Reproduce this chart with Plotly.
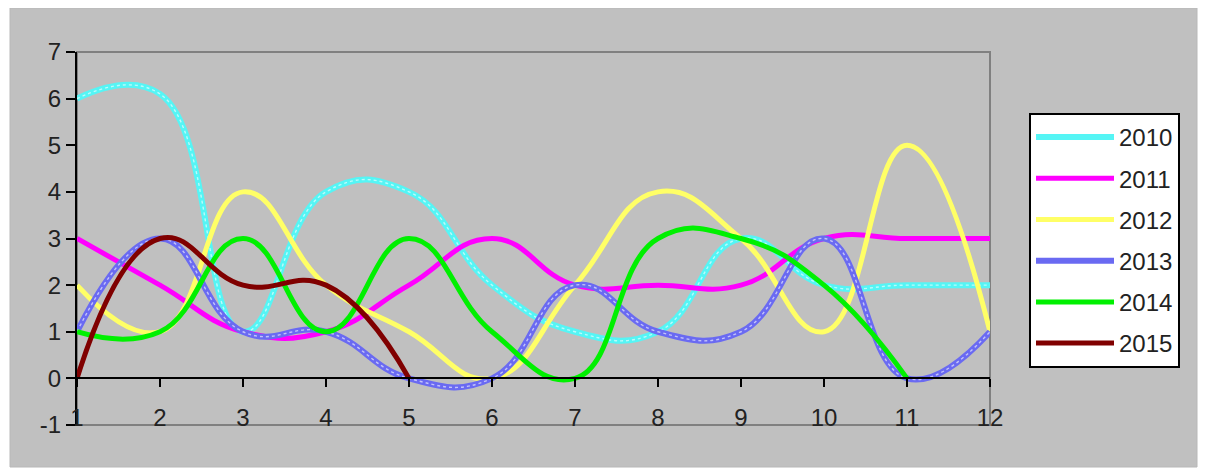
import plotly.graph_objects as go

months = list(range(1, 13))
series_names = ["2010", "2011", "2012", "2013", "2014", "2015"]
v2010 = [6, 6.1, 1, 4, 4, 2, 1, 1, 3, 2, 2, 2]
v2011 = [3, 2, 1, 1, 2, 3, 2, 2, 2, 3, 3, 3]
v2012 = [2, 1, 4, 2, 1, 0, 2, 4, 3, 1, 5, 1]
v2013 = [1, 3, 1, 1, 0, 0, 2, 1, 1, 3, 0, 1]
v2014 = [1, 1, 3, 1, 3, 1, 0, 3, 3, 2, 0]
v2015 = [0, 3, 2, 2, 0]
y_ticks = list(range(-1, 8))

values = [v2010, v2011, v2012, v2013, v2014, v2015]
colors = ["#55F5F5", "#FF00FF", "#FFFF66", "#6A6AF2", "#00F000", "#800000"]
widths = [6, 5, 5, 6, 5, 5]

FONT = "Liberation Sans, Arial, sans-serif"
FS = 24

fig = go.Figure()
for name, vals, col, w in zip(series_names, values, colors, widths):
    fig.add_trace(go.Scatter(
        x=months[:len(vals)], y=vals, name=name, mode="lines", legendgroup=name,
        line=dict(color=col, width=w, shape="spline", smoothing=1.3),
    ))
    if name in ("2010", "2013"):
        fig.add_trace(go.Scatter(
            x=months[:len(vals)], y=vals, name=name, mode="lines", legendgroup=name,
            showlegend=False, hoverinfo="skip",
            line=dict(color="rgba(255,255,255,0.6)", width=1.4, dash="dot",
                      shape="spline", smoothing=1.3),
        ))

# page offset (browser body margin)
OFF = 8
W, H = 1207 - 2 * OFF + 8, 474 - OFF
# plot area in window pixels
PX0, PX1, PY0, PY1 = 77, 990, 52, 425
L = PX0 - OFF
T = PY0 - OFF
R = W - (PX1 - OFF)
B = H - (PY1 - OFF)
dw, dh = W - L - R, H - T - B

def px(xw):
    return (xw - OFF - L) / dw

def py(yw):
    return (H - B - (yw - OFF)) / dh

fig.update_layout(
    width=W, height=H,
    margin=dict(l=L, r=R, t=T, b=B, pad=0),
    paper_bgcolor="white",
    plot_bgcolor="#C0C0C0",
    font=dict(family=FONT, size=FS, color="#222222"),
    showlegend=True,
    legend=dict(
        x=px(1029), y=py(113), xanchor="left", yanchor="top",
        bgcolor="white", bordercolor="black", borderwidth=2,
        font=dict(family=FONT, size=FS, color="#222222"),
        tracegroupgap=7, itemwidth=78,
    ),
    shapes=[
        dict(type="rect", xref="paper", yref="paper",
             x0=px(10), x1=px(1197), y0=py(467), y1=py(8),
             fillcolor="#C0C0C0", line=dict(color="#B8B8B8", width=1), layer="below"),
        dict(type="rect", xref="paper", yref="paper",
             x0=0, x1=1, y0=0, y1=1,
             fillcolor="rgba(0,0,0,0)", line=dict(color="#808080", width=2), layer="below"),
    ],
    xaxis=dict(
        range=[1, 12], tickvals=months, ticktext=[str(m) for m in months],
        anchor="free", position=0.125,
        showline=True, linecolor="black", linewidth=2,
        ticks="outside", ticklen=8, tickwidth=2, tickcolor="black",
        ticklabelstandoff=10,
        showgrid=False, zeroline=False,
        tickfont=dict(family=FONT, size=FS, color="#222222"),
    ),
    yaxis=dict(
        range=[-1, 7], tickvals=y_ticks, ticktext=[str(v) for v in y_ticks],
        showline=True, linecolor="black", linewidth=2,
        ticks="outside", ticklen=9, tickwidth=2, tickcolor="black",
        showgrid=False, zeroline=False,
        tickfont=dict(family=FONT, size=FS, color="#222222"),
    ),
)

fig.write_html("out.html")
